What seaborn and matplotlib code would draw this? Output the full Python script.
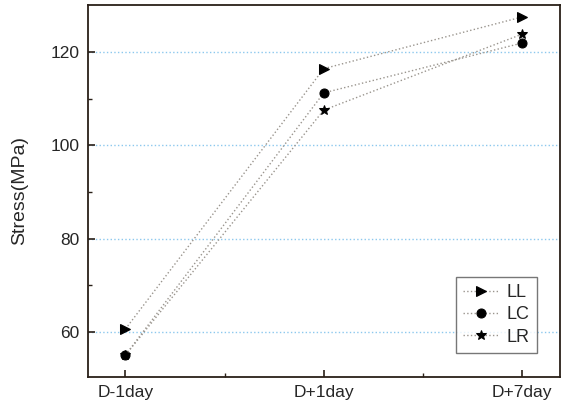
import pandas as pd
import matplotlib
matplotlib.use("Agg")
import matplotlib.pyplot as plt
import seaborn as sns
from matplotlib.ticker import FixedLocator

# Data
days = ["D-1day", "D+1day", "D+7day"]
ll_stress = [60.6, 116.5, 127.6]
lc_stress = [55.0, 111.3, 122.0]
lr_stress = [55.0, 107.6, 123.9]

series = {"LL": ll_stress, "LC": lc_stress, "LR": lr_stress}
markers = {"LL": ">", "LC": "o", "LR": "*"}
msizes = {"LL": 6.5, "LC": 6.5, "LR": 7}

sns.set_style("white")
plt.rcParams["font.family"] = ["Liberation Sans", "DejaVu Sans"]

fig = plt.figure(figsize=(5.7, 4.04), dpi=100)
ax = fig.add_axes([0.154, 0.067, 0.828, 0.921])

for name, vals in series.items():
    df = pd.DataFrame({"day": days, "stress": vals})
    sns.lineplot(data=df, x="day", y="stress", ax=ax, color="#9a958e",
                 linestyle=":", linewidth=1.0, marker=markers[name],
                 markersize=msizes[name], markerfacecolor="black",
                 markeredgecolor="black", label=name, sort=False)

ax.set_xlim(-0.19, 2.19)
ax.set_ylim(50.3, 130.2)

ax.yaxis.set_major_locator(FixedLocator([60, 80, 100, 120]))
ax.yaxis.set_minor_locator(FixedLocator([70, 90, 110]))
ax.xaxis.set_minor_locator(FixedLocator([0.5, 1.5]))

ax.grid(axis="y", which="major", color="#8cc8ee", linestyle=":", linewidth=1.0)
ax.set_axisbelow(True)

ax.tick_params(axis="both", which="major", direction="in", length=5, width=1.2,
               labelsize=12.5, color="#2a2018", pad=6)
ax.tick_params(axis="both", which="minor", direction="in", length=3, width=1.0,
               color="#2a2018")
ax.tick_params(axis="x", which="both", top=False, bottom=True)
ax.tick_params(axis="y", which="both", right=False, left=True)

for sp in ax.spines.values():
    sp.set_color("#2a2018")
    sp.set_linewidth(1.3)

ax.set_xlabel("")
ax.set_ylabel("Stress(MPa)", fontsize=14, labelpad=16)

leg = ax.legend(loc="lower right", bbox_to_anchor=(0.97, 0.04), fontsize=13,
                frameon=True, fancybox=False, edgecolor="#555555",
                handlelength=2.0, handletextpad=0.4, labelspacing=0.3,
                borderpad=0.4)
leg.get_frame().set_linewidth(1.0)

fig.savefig("out.png", dpi=100)
